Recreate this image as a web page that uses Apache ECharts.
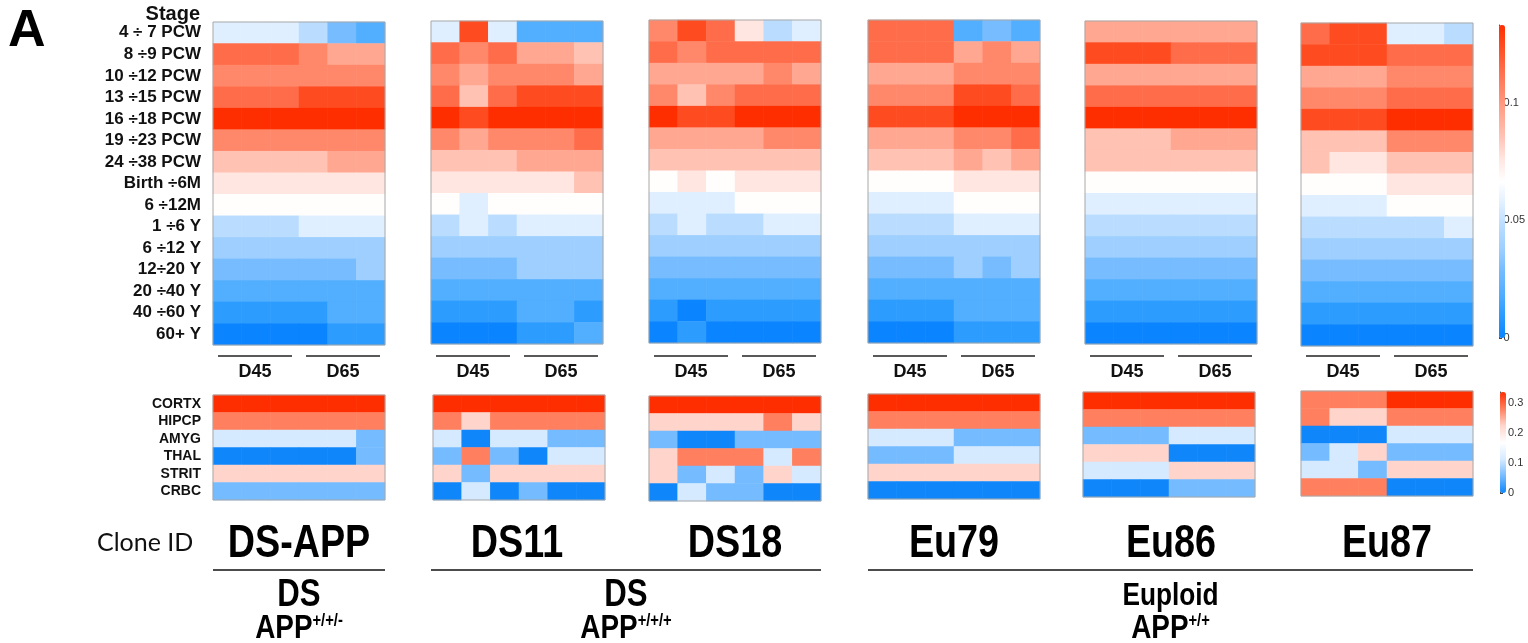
<!DOCTYPE html>
<html><head><meta charset="utf-8">
<script src="https://cdn.jsdelivr.net/npm/echarts@6/dist/echarts.min.js"></script>
<style>html,body{margin:0;padding:0;background:#fff}#c{width:1528px;height:643px}</style>
</head><body><div id="c"></div>
<script>
// ---------- DATA ----------
const stages = ['4 \u00f7 7 PCW','8 \u00f79 PCW','10 \u00f712 PCW','13 \u00f715 PCW','16 \u00f718 PCW','19 \u00f723 PCW','24 \u00f738 PCW','Birth \u00f76M','6 \u00f712M','1 \u00f76 Y','6 \u00f712 Y','12\u00f720 Y','20 \u00f740 Y','40 \u00f760 Y','60+ Y'];
const regions = ['CORTX','HIPCP','AMYG','THAL','STRIT','CRBC'];
const clones = ['DS-APP','DS11','DS18','Eu79','Eu86','Eu87'];
const samples = ['s1','s2','s3','s4','s5','s6'];
const dayLabels = ['D45','D65'];
const topTicks = [0, 0.05, 0.1];
const botTicks = [0, 0.1, 0.2, 0.3];

const topDSAPP = [
 [.057,.057,.057,.048,.029,.019],
 [.114,.114,.114,.105,.095,.095],
 [.105,.105,.105,.105,.105,.105],
 [.114,.114,.114,.124,.124,.124],
 [.133,.133,.133,.133,.133,.133],
 [.105,.105,.105,.105,.105,.105],
 [.086,.086,.086,.086,.095,.095],
 [.076,.076,.076,.076,.076,.076],
 [.067,.067,.067,.067,.067,.067],
 [.048,.048,.048,.057,.057,.057],
 [.038,.038,.038,.038,.038,.038],
 [.029,.029,.029,.029,.029,.038],
 [.019,.019,.019,.019,.019,.019],
 [.010,.010,.010,.010,.019,.019],
 [0,0,0,0,.010,.010]];
const topDS11 = [
 [.057,.124,.057,.019,.019,.019],
 [.114,.105,.114,.095,.095,.086],
 [.105,.095,.105,.105,.105,.095],
 [.114,.086,.114,.124,.124,.124],
 [.133,.124,.133,.133,.133,.133],
 [.105,.095,.105,.105,.105,.114],
 [.086,.086,.086,.095,.095,.095],
 [.076,.076,.076,.076,.076,.086],
 [.067,.057,.067,.067,.067,.067],
 [.048,.057,.048,.057,.057,.057],
 [.038,.038,.038,.038,.038,.038],
 [.029,.029,.029,.038,.038,.038],
 [.019,.019,.019,.019,.019,.019],
 [.010,.010,.010,.019,.019,.010],
 [0,0,0,.010,.010,.019]];
const topDS18 = [
 [.105,.124,.114,.076,.048,.057],
 [.114,.105,.114,.114,.114,.114],
 [.095,.095,.095,.095,.105,.095],
 [.105,.086,.105,.114,.114,.114],
 [.133,.124,.124,.133,.133,.133],
 [.095,.095,.095,.095,.105,.105],
 [.086,.086,.086,.086,.086,.086],
 [.067,.076,.067,.076,.076,.076],
 [.057,.057,.057,.067,.067,.067],
 [.048,.057,.048,.048,.057,.057],
 [.038,.038,.038,.038,.038,.038],
 [.029,.029,.029,.029,.029,.029],
 [.019,.019,.019,.019,.019,.019],
 [.010,0,.010,.010,.010,.010],
 [0,.010,0,0,0,0]];
const topEu79 = [
 [.114,.114,.114,.019,.029,.019],
 [.114,.114,.114,.095,.105,.095],
 [.095,.095,.095,.105,.105,.105],
 [.105,.105,.105,.124,.124,.114],
 [.124,.124,.124,.133,.133,.133],
 [.095,.095,.095,.105,.105,.114],
 [.086,.086,.086,.095,.086,.095],
 [.067,.067,.067,.076,.076,.076],
 [.057,.057,.057,.067,.067,.067],
 [.048,.048,.048,.057,.057,.057],
 [.038,.038,.038,.038,.038,.038],
 [.029,.029,.029,.038,.029,.038],
 [.019,.019,.019,.019,.019,.019],
 [.010,.010,.010,.019,.019,.019],
 [0,0,0,.010,.010,.010]];
const topEu86 = [
 [.095,.095,.095,.095,.095,.095],
 [.124,.124,.124,.114,.114,.114],
 [.095,.095,.095,.095,.095,.095],
 [.114,.114,.114,.114,.114,.114],
 [.133,.133,.133,.133,.133,.133],
 [.086,.086,.086,.095,.095,.095],
 [.086,.086,.086,.086,.086,.086],
 [.067,.067,.067,.067,.067,.067],
 [.057,.057,.057,.057,.057,.057],
 [.048,.048,.048,.048,.048,.048],
 [.038,.038,.038,.038,.038,.038],
 [.029,.029,.029,.029,.029,.029],
 [.019,.019,.019,.019,.019,.019],
 [.010,.010,.010,.010,.010,.010],
 [0,0,0,0,0,0]];
const topEu87 = [
 [.114,.124,.124,.057,.057,.048],
 [.124,.124,.124,.114,.114,.114],
 [.095,.095,.095,.105,.105,.105],
 [.105,.105,.105,.114,.114,.114],
 [.124,.124,.124,.133,.133,.133],
 [.086,.086,.086,.105,.105,.105],
 [.086,.076,.076,.086,.086,.086],
 [.067,.067,.067,.076,.076,.076],
 [.057,.057,.057,.067,.067,.067],
 [.048,.048,.048,.048,.048,.057],
 [.038,.038,.038,.038,.038,.038],
 [.029,.029,.029,.029,.029,.029],
 [.019,.019,.019,.019,.019,.019],
 [.010,.010,.010,.010,.010,.010],
 [0,0,0,0,0,0]];

const botDSAPP = [
 [.337,.337,.337,.337,.337,.337],
 [.281,.281,.281,.281,.281,.281],
 [.112,.112,.112,.112,.112,.056],
 [0,0,0,0,0,.056],
 [.225,.225,.225,.225,.225,.225],
 [.056,.056,.056,.056,.056,.056]];
const botDS11 = [
 [.337,.337,.337,.337,.337,.337],
 [.281,.225,.281,.281,.281,.281],
 [.112,0,.112,.112,.056,.056],
 [.056,.281,.056,0,.112,.112],
 [.225,.056,.225,.225,.225,.225],
 [0,.112,0,.056,0,0]];
const botDS18 = [
 [.337,.337,.337,.337,.337,.337],
 [.225,.225,.225,.225,.281,.225],
 [.056,0,0,.056,.056,.056],
 [.225,.281,.281,.281,.112,.281],
 [.225,.056,.112,.056,.225,.112],
 [0,.112,.056,.056,0,0]];
const botEu79 = [
 [.337,.337,.337,.337,.337,.337],
 [.281,.281,.281,.281,.281,.281],
 [.112,.112,.112,.056,.056,.056],
 [.056,.056,.056,.112,.112,.112],
 [.225,.225,.225,.225,.225,.225],
 [0,0,0,0,0,0]];
const botEu86 = [
 [.337,.337,.337,.337,.337,.337],
 [.281,.281,.281,.281,.281,.281],
 [.056,.056,.056,.112,.112,.112],
 [.225,.225,.225,0,0,0],
 [.112,.112,.112,.225,.225,.225],
 [0,0,0,.056,.056,.056]];
const botEu87 = [
 [.281,.281,.281,.337,.337,.337],
 [.281,.225,.225,.281,.281,.281],
 [0,0,0,.112,.112,.112],
 [.056,.112,.225,.056,.056,.056],
 [.112,.112,.056,.225,.225,.225],
 [.281,.281,.281,0,0,0]];

const groups = [
 {name:'DS', geno:'+/+/-', from:0, to:0},
 {name:'DS', geno:'+/+/+', from:1, to:2},
 {name:'Euploid', geno:'+/+', from:3, to:5}];

// ---------- STYLE / LAYOUT ----------
const topColors = ['#0a84ff','#2a9bff','#52aeff','#74bbff','#9ecfff','#b8dcff','#e0efff','#ffffff','#ffe6e0','#ffc3b5','#ffa791','#ff8a6d','#ff6c4a','#ff4d22','#ff2e00'];
const botColors = ['#0f87fb','#74bbff','#d6eaff','#ffffff','#ffd5cc','#ff7f5e','#ff2e00'];
const topMax = 0.133, botMax = 0.337;
const PW = 172, TH = 323, BH = 105;
const topX = [213,431,649,868,1085,1301], topY = [22,21,20,20,21,23];
const botX = [213,433,649,868,1083,1301], botY = [395,395,396,394,392,391];
const ARIAL = "'Liberation Sans', Arial, sans-serif";
const NX = 0.82; // narrow-font emulation

const topSets = [topDSAPP, topDS11, topDS18, topEu79, topEu86, topEu87];
const botSets = [botDSAPP, botDS11, botDS18, botEu79, botEu86, botEu87];

const grid = [], xAxis = [], yAxis = [], series = [], graphic = [];
function toCells(m){ const d=[]; m.forEach((row,r)=>row.forEach((v,c)=>d.push([c,r,v]))); return d; }

function addPanel(x, y, h, rows, mat, showLabels, labelSize){
  const i = grid.length;
  grid.push({left:x, top:y, width:PW, height:h, containLabel:false});
  xAxis.push({type:'category', gridIndex:i, data:samples, show:false});
  yAxis.push({type:'category', gridIndex:i, data:rows, inverse:true,
    axisLine:{show:false}, axisTick:{show:false}, splitLine:{show:false},
    axisLabel:{show:showLabels, interval:0, hideOverlap:false, margin:12, fontSize:labelSize, fontWeight:'bold', color:'#111', fontFamily:ARIAL}});
  series.push({type:'heatmap', xAxisIndex:i, yAxisIndex:i, data:toCells(mat), emphasis:{disabled:true}, itemStyle:{borderWidth:0}});
  graphic.push({type:'rect', shape:{x:x, y:y, width:PW, height:h}, style:{fill:'none', stroke:'#a8a8a8', lineWidth:1}, z:100, silent:true});
}
topSets.forEach((m,k)=>addPanel(topX[k], topY[k], TH, stages, m, k===0, 17));
botSets.forEach((m,k)=>addPanel(botX[k], botY[k], BH, regions, m, k===0, 14));

// colour-bar axes
function addBar(x, y, h, max, ticks){
  const i = grid.length;
  grid.push({left:x, top:y, width:6, height:h});
  xAxis.push({type:'value', gridIndex:i, show:false, min:0, max:1});
  yAxis.push({type:'value', gridIndex:i, position:'right', min:0, max:max, interval:ticks[1]-ticks[0],
    axisLine:{show:true, lineStyle:{color:'#444', width:1}}, axisTick:{show:true, length:3, lineStyle:{color:'#444'}},
    splitLine:{show:false}, axisLabel:{show:true, showMaxLabel:false, margin:2, fontSize:11, color:'#333', fontFamily:ARIAL}});
}
addBar(1499, 25, 313, topMax, topTicks);
addBar(1500, 392, 101, botMax, botTicks);

// stage header + panel letter
graphic.push({type:'text', x:200, y:14, style:{text:'Stage', font:"bold 20px "+ARIAL, fill:'#111', textAlign:'right', textVerticalAlign:'middle'}});
graphic.push({type:'text', x:8, y:32, style:{text:'A', font:"bold 52px "+ARIAL, fill:'#000', textAlign:'left', textVerticalAlign:'middle'}});

// D45 / D65 brackets
topX.forEach(x=>{
  [[5,79],[93,167]].forEach((seg,j)=>{
    graphic.push({type:'line', shape:{x1:x+seg[0], y1:356, x2:x+seg[1], y2:356}, style:{stroke:'#222', lineWidth:1.5}});
    graphic.push({type:'text', x:x+(seg[0]+seg[1])/2, y:372, style:{text:dayLabels[j], font:"bold 18px "+ARIAL, fill:'#111', textAlign:'center', textVerticalAlign:'middle'}});
  });
});

// clone IDs
graphic.push({type:'text', x:97, y:543, style:{text:'Clone ID', font:"25px Lato, 'Open Sans', sans-serif", fill:'#111', textAlign:'left', textVerticalAlign:'middle'}});
clones.forEach((c,k)=>{
  graphic.push({type:'text', x:topX[k]+PW/2, y:544, scaleX:NX, style:{text:c, x:0, y:0, font:"bold 46px "+ARIAL, fill:'#000', textAlign:'center', textVerticalAlign:'middle'}});
});

// group lines + labels
groups.forEach(g=>{
  const x1 = topX[g.from], x2 = topX[g.to]+PW, cx = (x1+x2)/2;
  graphic.push({type:'line', shape:{x1:x1, y1:570, x2:x2, y2:570}, style:{stroke:'#111', lineWidth:1.5}});
  graphic.push({type:'text', x:cx, y:596, scaleX:NX, style:{text:g.name, x:0, y:0, font:"bold "+(g.name==='DS'?38:32)+"px "+ARIAL, fill:'#000', textAlign:'center', textVerticalAlign:'middle'}});
  graphic.push({type:'text', x:cx, y:628, scaleX:NX, style:{text:'{a|APP}{s|'+g.geno+'}', x:0, y:0, textAlign:'center', textVerticalAlign:'middle',
    rich:{a:{font:"bold 34px "+ARIAL, fill:'#000', lineHeight:36, verticalAlign:'bottom'},
          s:{font:"bold 18px "+ARIAL, fill:'#000', lineHeight:36, verticalAlign:'top', padding:[2,0,0,0]}}}});
});

const option = {
  animation:false,
  backgroundColor:'#fff',
  grid, xAxis, yAxis, series, graphic,
  visualMap:[
    {type:'continuous', seriesIndex:[0,1,2,3,4,5], min:0, max:topMax, inRange:{color:topColors},
     left:1499, top:25, itemWidth:6, itemHeight:313, padding:0, calculable:false, hoverLink:false, showLabel:false, text:null},
    {type:'continuous', seriesIndex:[6,7,8,9,10,11], min:0, max:botMax, inRange:{color:botColors},
     left:1500, top:392, itemWidth:6, itemHeight:101, padding:0, calculable:false, hoverLink:false, showLabel:false, text:null}
  ]
};
const chart = echarts.init(document.getElementById('c'), null, {renderer:'canvas'});
chart.setOption(option);
</script></body></html>
